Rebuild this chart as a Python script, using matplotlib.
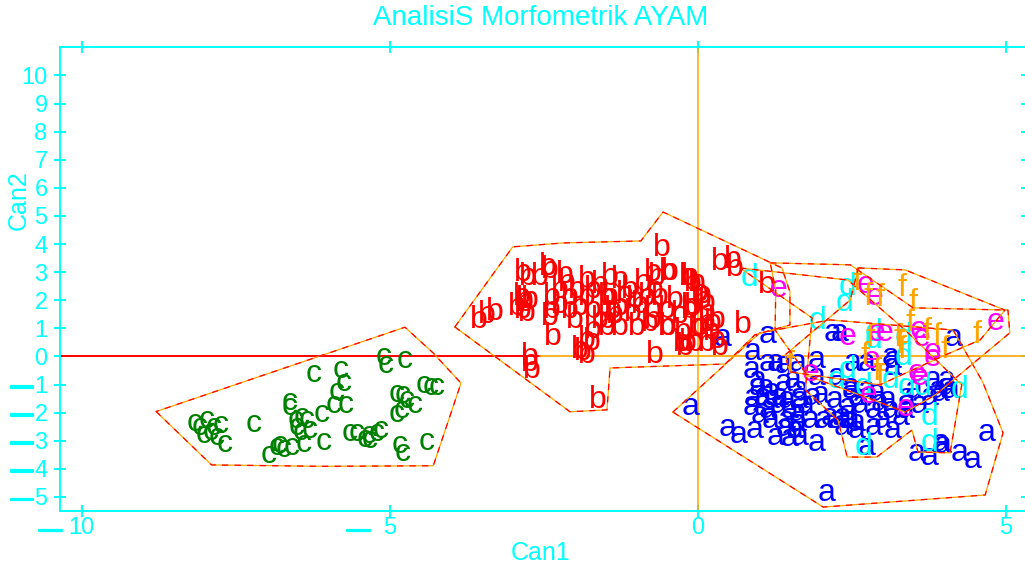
import matplotlib
matplotlib.use('Agg')
import matplotlib.pyplot as plt
from matplotlib.transforms import ScaledTranslation
import matplotlib.patheffects as pe

plt.rcParams['font.family'] = ['Liberation Sans', 'DejaVu Sans']

CYAN = '#00FFFF'

title = 'AnalisiS Morfometrik AYAM'
xlabel = 'Can1'
ylabel = 'Can2'
xticks = [-10, -5, 0, 5]
yticks = list(range(-5, 11))

group_labels = ['a', 'b', 'c', 'd', 'e', 'f']
group_colors = ['#0000FF', '#FF0000', '#008000', '#00FFFF', '#FF00FF', '#FFA500']

a_pts = [(0.41, 0.66), (1.13, 0.77), (0.90, 0.16), (0.88, -0.48), (1.13, -0.23), (1.26, -0.23),
         (1.39, -0.30), (1.62, -0.23), (1.94, -0.12), (2.20, 0.84), (1.94, -0.73), (1.87, -1.44),
         (0.97, -1.09), (0.90, -1.48), (1.05, -1.44), (1.18, -1.55), (0.88, -1.80), (1.34, -1.44),
         (1.45, -1.55), (1.50, -1.90), (1.13, -1.90), (1.62, -2.01), (1.45, -2.26), (1.62, -2.37),
         (0.48, -2.54), (0.66, -2.79), (0.93, -2.62), (1.26, -2.86), (1.50, -2.90), (1.66, -2.86),
         (1.94, -3.08), (2.10, -4.86), (2.04, -2.26), (2.15, -2.15), (2.26, -2.26), (2.36, -2.15),
         (2.48, -2.26), (2.59, -2.62), (2.36, -2.51), (-0.12, -1.80), (1.39, -0.94), (1.66, -1.19),
         (1.55, -0.84), (2.26, -0.73), (2.48, -1.09), (4.15, 0.66), (3.13, -0.02), (3.17, -0.37),
         (2.75, -1.19), (2.91, -1.30), (3.08, -1.55), (3.40, -1.44), (3.94, -1.30), (4.05, -1.09),
         (4.05, -0.84), (3.77, -1.44), (3.89, -1.19), (2.43, -2.26), (2.59, -2.37), (2.85, -2.51),
         (3.17, -2.62), (3.29, -2.15), (3.01, -2.26), (2.75, -3.22), (3.56, -3.43), (3.77, -3.58),
         (3.94, -3.08), (3.98, -3.15), (4.26, -3.43), (4.47, -3.68), (4.70, -2.72), (2.48, -1.19),
         (2.59, -1.44), (2.43, -1.80), (2.85, -1.90), (3.13, -1.90), (2.96, -1.65), (0.98, -0.84),
         (1.10, -1.12), (1.21, -1.26), (1.31, -1.73), (1.01, -2.08), (1.18, -2.26), (1.42, -2.54),
         (1.58, -2.62), (1.75, -1.73), (1.83, -2.26), (1.66, -1.55), (2.31, 0.84), (2.51, -0.23),
         (2.75, -0.23), (3.17, -0.12), (3.82, -0.84), (3.50, -1.19), (4.10, -1.19), (1.99, -1.37),
         (2.23, -1.55), (2.64, -1.73), (3.37, -1.90), (3.61, -1.73)]

b_pts = [(-3.55, 1.30), (-3.29, 1.58), (-3.42, 1.48), (-2.75, 2.83), (-2.56, 2.83), (-2.40, 3.08),
         (-2.80, 1.90), (-2.77, 1.55), (-2.72, 2.01), (-2.35, 0.69), (-2.72, -0.02), (-2.69, -0.48),
         (-2.72, -0.23), (-1.86, 0.16), (-1.71, 0.52), (-1.79, 0.05), (-1.62, -1.55), (-0.69, 0.05),
         (-0.58, 3.86), (-0.45, 3.01), (-0.66, 2.83), (-0.12, 2.83), (-0.07, 2.61), (0.09, 2.19),
         (0.15, 1.90), (-0.07, 1.76), (-0.12, 1.65), (-0.01, 1.05), (0.15, 1.19), (0.24, 0.87),
         (0.32, 0.59), (0.15, 0.48), (0.37, 0.34), (-0.20, 0.34), (-0.04, 0.48), (-0.24, 0.87),
         (-0.48, 1.05), (0.37, 3.36), (0.58, 3.43), (0.61, 3.15), (1.13, 2.54), (0.74, 1.12),
         (-0.72, 1.30), (-2.83, 2.97), (-2.43, 3.19), (-2.80, 2.01), (-2.83, 1.65), (-2.36, 2.12),
         (-2.36, 1.65), (-2.39, 1.41), (-2.12, 2.62), (-2.07, 2.12), (-1.96, 2.37), (-2.07, 1.65),
         (-1.91, 1.76), (-1.79, 2.72), (-1.79, 2.12), (-1.70, 2.37), (-1.70, 1.65), (-1.58, 1.30),
         (-1.47, 2.12), (-1.42, 2.83), (-1.37, 1.65), (-1.47, 1.05), (-1.70, 0.94), (-1.79, 0.59),
         (-1.91, 0.23), (-0.72, 2.97), (-0.48, 3.01), (-0.15, 2.83), (-0.01, 2.61), (0.04, 2.26),
         (0.09, 2.01), (-0.12, 1.76), (0.15, 1.55), (0.04, 1.05), (0.25, 1.19), (0.32, 1.30),
         (-0.15, 0.48), (-0.25, 0.48), (-1.26, 2.72), (-1.42, 2.12), (-1.26, 1.76), (-1.10, 2.37),
         (-1.05, 1.55), (-0.88, 2.61), (-0.82, 2.12), (-0.72, 1.65), (-0.61, 2.12), (-0.50, 1.65),
         (-0.50, 1.05), (-0.77, 1.19), (-0.98, 1.05), (-1.26, 1.05), (-1.47, 1.30), (-2.23, 2.37),
         (-2.23, 1.83), (-1.99, 1.30), (-1.58, 2.54), (-1.18, 2.19), (-0.93, 1.83), (-0.69, 2.37),
         (-0.37, 2.01), (-0.28, 1.48), (-2.15, 2.90), (-1.34, 1.48), (-1.01, 2.01), (-2.93, 1.77),
         (-2.85, 2.13)]

c_pts = [(-6.24, -0.60), (-5.80, -0.48), (-5.75, -0.95), (-5.86, -1.25), (-5.91, -1.73), (-5.72, -1.73),
         (-6.10, -2.02), (-6.62, -1.61), (-6.62, -1.79), (-5.10, -0.01), (-5.07, -0.30), (-4.75, -0.12),
         (-4.88, -1.31), (-4.78, -1.37), (-4.59, -1.73), (-4.88, -2.02), (-4.80, -1.90), (-4.45, -1.01),
         (-4.34, -1.07), (-4.23, -1.07), (-4.40, -3.03), (-4.83, -3.15), (-4.78, -3.44), (-5.53, -2.73),
         (-5.34, -2.79), (-5.21, -2.73), (-5.40, -2.91), (-5.15, -2.62), (-6.07, -3.03), (-7.21, -2.38),
         (-7.97, -2.26), (-7.86, -2.50), (-8.08, -2.50), (-7.75, -2.44), (-7.91, -2.68), (-8.02, -2.79),
         (-7.67, -3.09), (-7.81, -2.85), (-8.16, -2.37), (-6.53, -2.26), (-6.43, -2.14), (-6.34, -2.26),
         (-6.51, -2.50), (-6.29, -2.62), (-6.40, -3.09), (-6.59, -3.21), (-6.78, -3.15), (-6.97, -3.51),
         (-6.83, -3.21), (-6.72, -3.27), (-5.64, -2.73), (-5.32, -2.97), (-4.72, -1.55), (-6.45, -2.68)]

d_pts = [(0.85, 2.79), (1.94, 1.26), (2.44, 2.47), (2.39, 1.90), (2.85, 0.84), (3.34, 0.69),
         (2.26, -0.84), (2.69, -1.09), (3.40, -1.09), (4.26, -1.19), (3.77, -2.15), (3.77, -3.08),
         (2.69, -3.22), (2.85, 0.59), (3.34, -0.02), (3.66, -1.09), (2.44, -0.48), (3.13, -0.84)]

e_pts = [(1.31, 2.40), (2.72, 2.54), (2.88, 2.12), (4.83, 1.23), (2.43, 0.69), (2.91, 0.84),
         (3.03, 0.84), (3.58, 0.94), (3.63, 0.66), (3.82, 0.16), (3.61, -0.73), (2.83, -0.12),
         (2.77, -1.37), (3.37, -1.83), (1.83, -0.59), (3.55, -0.59), (3.81, -0.05)]

f_pts = [(3.32, 2.44), (3.50, 1.90), (2.59, 2.65), (2.77, 2.12), (2.96, 2.08), (4.54, 0.77),
         (3.89, 0.69), (3.72, 0.87), (3.25, 0.66), (2.80, 0.66), (4.02, 0.23), (1.50, -0.30),
         (2.72, 0.02), (3.32, 0.23), (3.29, 0.41), (2.91, -0.55), (2.96, -0.77), (3.45, 1.19)]

# group outlines (polygon vertices, data units)
a_hull = [(-0.40, -1.98), (1.01, 0.84), (2.15, 1.30), (4.15, 0.94), (4.63, -0.91), (4.96, -2.72),
          (4.67, -4.93), (2.04, -5.36)]
b_hull = [(-3.94, 1.05), (-3.00, 3.90), (-2.18, 4.04), (-0.92, 4.11), (-0.56, 5.14), (1.37, 3.15),
          (1.50, 2.30), (1.50, 1.12), (0.93, 0.77), (0.45, -0.27), (-1.42, -0.41), (-1.47, -1.90),
          (-2.07, -1.97)]
c_hull = [(-8.79, -1.96), (-7.89, -3.86), (-6.10, -3.91), (-4.29, -3.89), (-3.84, -0.95),
          (-4.29, 0.12), (-4.75, 1.04)]
d_hull = [(0.69, 3.15), (2.44, 2.72), (3.37, 0.94), (4.29, -1.01), (4.10, -3.43), (3.58, -3.40),
          (3.48, -2.62), (2.91, -3.58), (2.43, -3.58), (2.28, -2.26), (1.75, -1.19), (1.86, 1.37)]
e_hull = [(1.18, 3.33), (2.48, 3.26), (3.50, 1.73), (5.04, 1.65), (5.07, 0.84), (3.86, -1.37),
          (3.37, -1.98), (2.77, -1.48), (1.79, -0.69), (1.26, 0.94), (1.27, 2.37)]
f_hull = [(2.61, 3.15), (3.37, 3.08), (4.99, 1.65), (4.59, 0.59), (4.02, 0.05), (2.96, -1.01),
          (1.50, -0.55), (1.42, 0.05), (2.48, 2.01)]

groups = [a_pts, b_pts, c_pts, d_pts, e_pts, f_pts]
hulls = [a_hull, b_hull, c_hull, d_hull, e_hull, f_hull]

W, H = 1025, 571
fig = plt.figure(figsize=(W / 100, H / 100), dpi=100)
ax = fig.add_axes([60 / W, (H - 511) / H, (1027 - 60) / W, (511 - 46.5) / H])
ax.set_xlim(-10.35, (1027 - 697.5) / 61.6)
ax.set_ylim(-5.50, 11.03)

for s in ax.spines.values():
    s.set_color(CYAN)
    s.set_linewidth(1.4)

ax.set_xticks(xticks)
ax.set_yticks(yticks)
ax.set_xticklabels([str(abs(v)) for v in xticks])
ax.set_yticklabels([str(abs(v)) for v in yticks])
ax.tick_params(axis='both', which='both', direction='inout', length=8.6, width=1.4,
               colors=CYAN, labelsize=17, top=True, right=True)
ax.tick_params(axis='y', pad=4.7)
ax.tick_params(axis='x', pad=0)

# minus signs drawn as thick dashes next to the digits
stroke = [pe.withStroke(linewidth=1.6, foreground=CYAN)]
ytrans = ax.get_yaxis_transform() + ScaledTranslation(-27 / 100, 0, fig.dpi_scale_trans)
for v in yticks:
    if v < 0:
        ax.text(0, v, '\u2014', transform=ytrans, ha='right', va='center_baseline',
                fontsize=16, color=CYAN, path_effects=stroke, clip_on=False)
xtrans = ax.get_xaxis_transform() + ScaledTranslation(-20 / 100, -(528 - 511) / 100, fig.dpi_scale_trans)
for v in xticks:
    if v < 0:
        ax.text(v, 0, '\u2014', transform=xtrans, ha='right', va='center_baseline',
                fontsize=16, color=CYAN, path_effects=stroke, clip_on=False)

# reference lines
ax.axvline(0, color='#FFA500', lw=1.1, zorder=2)
ax.plot([-10.35, -2.55], [0, 0], color='#FF0000', lw=1.4, zorder=2)
ax.plot([-2.55, 5.4], [0, 0], color='#FFA500', lw=1.2, zorder=2)

# letters as plot symbols
letter_size = 23
shift = ScaledTranslation(0, -8.3 / 100, fig.dpi_scale_trans)
for pts, lab, col in zip(groups, group_labels, group_colors):
    for x, y in pts:
        ax.text(x, y, lab, color=col, fontsize=letter_size, ha='center', va='baseline',
                transform=ax.transData + shift, zorder=3)

# outlines
for hull in hulls:
    xs = [p[0] for p in hull] + [hull[0][0]]
    ys = [p[1] for p in hull] + [hull[0][1]]
    ax.plot(xs, ys, color='#FFA500', lw=0.9, zorder=4)
    ax.plot(xs, ys, color='#FF0000', lw=0.9, zorder=4, dashes=(5, 5))

fig.text(541 / W, 1 - 18 / H, title, color=CYAN, fontsize=20, ha='center', va='center')
fig.text(541 / W, 1 - 553 / H, xlabel, color=CYAN, fontsize=18, ha='center', va='center')
fig.text(19 / W, 1 - 200 / H, ylabel, color=CYAN, fontsize=18, ha='center', va='center', rotation=90)

fig.savefig('out.png', dpi=100)
